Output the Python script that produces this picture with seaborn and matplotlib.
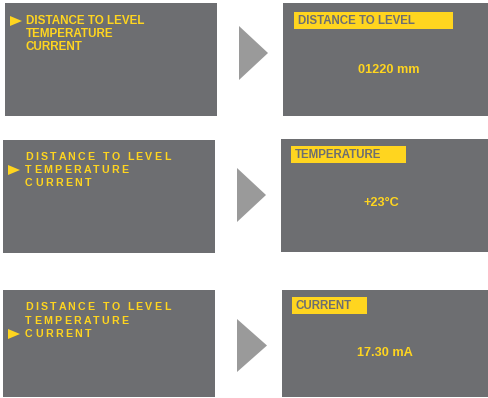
#!/usr/bin/env python3
"""Level sensor display: menu selection -> reading screen, one row per menu item."""

import matplotlib
matplotlib.use("Agg")
import matplotlib.pyplot as plt
from matplotlib.patches import Rectangle, Polygon
import seaborn as sns

# data
menu_items = ["DISTANCE TO LEVEL", "TEMPERATURE", "CURRENT"]
readings = ["01220 mm", "+23°C", "17.30 mA"]
selected = [0, 1, 2]

# colours
SCREEN = "#6d6e71"
YELLOW = "#ffd51f"
ARROW = "#9a9a9a"

# layout (pixels, y grows downward)
left_screens = [(5, 3, 217, 116), (3, 140, 215, 253), (3, 290, 215, 397)]
right_screens = [(283, 3, 488, 116), (281, 139, 488, 252), (282, 290, 488, 397)]
arrows = [(239, 26, 268, 80), (237, 168, 266, 222), (237, 319, 267, 372)]
title_boxes = [(294, 12, 453, 29), (291, 146, 406, 163), (292, 297, 367, 314)]
menu_rows = [(21, 34, 47), (157, 170, 183), (307, 321, 334)]
menu_x = [26, 25, 25]
marker_x = [10, 8, 8]
value_pos = [(389, 70), (381, 203), (385, 353)]
menu_size = [8.4, 7.7, 7.7]
menu_track = [0.0, 2.3, 2.3]

sns.set_theme(style="white")
plt.rcParams["font.family"] = ["Liberation Sans", "DejaVu Sans"]

fig = plt.figure(figsize=(4.89, 3.98), dpi=100)
ax = fig.add_axes([0, 0, 1, 1])
ax.set_xlim(0, 489)
ax.set_ylim(398, 0)
ax.axis("off")
renderer = fig.canvas.get_renderer()


def text_width(s, size):
    """Advance width of s in data pixels (trailing spaces included)."""
    prop = matplotlib.font_manager.FontProperties(family=plt.rcParams["font.family"],
                                                  weight="bold", size=size)
    w_i, _, _ = renderer.get_text_width_height_descent("I", prop, ismath=False)
    w, _, _ = renderer.get_text_width_height_descent(s + "I", prop, ismath=False)
    return w - w_i


def spaced_text(x, y, s, size, track):
    if track == 0:
        ax.text(x, y, s, color=YELLOW, fontsize=size, fontweight="bold",
                ha="left", va="center")
        return
    for i, ch in enumerate(s):
        if ch == " ":
            continue
        xi = x + (text_width(s[:i], size) if i else 0) + i * track
        ax.text(xi, y, ch, color=YELLOW, fontsize=size, fontweight="bold",
                ha="left", va="center")


for r in range(3):
    x0, y0, x1, y1 = left_screens[r]
    ax.add_patch(Rectangle((x0, y0), x1 - x0, y1 - y0, color=SCREEN, lw=0))
    x0, y0, x1, y1 = right_screens[r]
    ax.add_patch(Rectangle((x0, y0), x1 - x0, y1 - y0, color=SCREEN, lw=0))

    # big grey arrow between the screens
    ax0, ay0, ax1, ay1 = arrows[r]
    ax.add_patch(Polygon([(ax0, ay0), (ax1, (ay0 + ay1) / 2), (ax0, ay1)],
                         closed=True, color=ARROW, lw=0))

    # menu list with the selection marker
    for i, item in enumerate(menu_items):
        y = menu_rows[r][i]
        spaced_text(menu_x[r], y, item, menu_size[r], menu_track[r])
        if i == selected[r]:
            mx = marker_x[r]
            ax.add_patch(Polygon([(mx, y - 5), (mx + 12, y), (mx, y + 5)],
                                 closed=True, color=YELLOW, lw=0))

    # reading screen: title bar + value
    bx0, by0, bx1, by1 = title_boxes[r]
    ax.add_patch(Rectangle((bx0, by0), bx1 - bx0, by1 - by0, color=YELLOW, lw=0))
    ax.text(bx0 + 4, (by0 + by1) / 2 + 0.5, menu_items[selected[r]], color=SCREEN,
            fontsize=8.3, fontweight="bold", ha="left", va="center")
    vx, vy = value_pos[r]
    ax.text(vx, vy, readings[r], color=YELLOW, fontsize=9.2, fontweight="bold",
            ha="center", va="center")

fig.savefig("out.png", dpi=100)
